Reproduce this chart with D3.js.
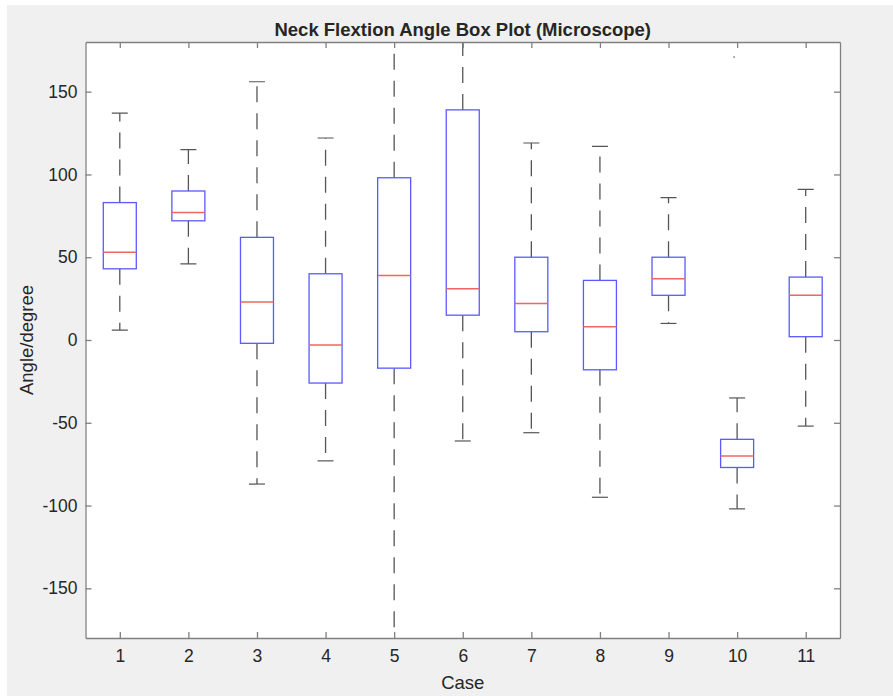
<!DOCTYPE html>
<html>
<head>
<meta charset="utf-8">
<script src="https://cdn.jsdelivr.net/npm/d3@7"></script>
<style>
  body { margin: 0; background: #fff; }
  text { font-family: "Liberation Sans", Arial, sans-serif; fill: #262626; }
</style>
</head>
<body>
<div id="wrapper"></div>
<script>
// data
const cases = ["1", "2", "3", "4", "5", "6", "7", "8", "9", "10", "11"]
const whiskerLow = [6, 46, -87, -73, -200, -61, -56, -95, 10, -102, -52]
const q1 = [43, 72, -2, -26, -17, 15, 5, -18, 27, -77, 2]
const medians = [53, 77, 23, -3, 39, 31, 22, 8, 37, -70, 27]
const q3 = [83, 90, 62, 40, 98, 139, 50, 36, 50, -60, 38]
const whiskerHigh = [137, 115, 156, 122, 200, 200, 119, 117, 86, -35, 91]
const outliers = [{ c: "10", v: 171 }]
const yTicks = [-150, -100, -50, 0, 50, 100, 150]

const dataset = cases.map((c, i) => ({
  c, lo: whiskerLow[i], q1: q1[i], med: medians[i], q3: q3[i], hi: whiskerHigh[i]
}))

const dimensions = {
  width: 893,
  height: 696,
  margin: { top: 42, right: 53, bottom: 58, left: 85.5 },
}
dimensions.boundedWidth = dimensions.width - dimensions.margin.left - dimensions.margin.right
dimensions.boundedHeight = dimensions.height - dimensions.margin.top - dimensions.margin.bottom

const svg = d3.select("#wrapper")
  .append("svg")
  .attr("width", dimensions.width)
  .attr("height", dimensions.height)

// figure background
svg.append("rect")
  .attr("x", 7).attr("y", 5)
  .attr("width", dimensions.width - 7)
  .attr("height", dimensions.height - 5)
  .attr("fill", "#f0f0f0")

const bounds = svg.append("g")
  .attr("transform", `translate(${dimensions.margin.left},${dimensions.margin.top})`)

bounds.append("rect")
  .attr("width", dimensions.boundedWidth)
  .attr("height", dimensions.boundedHeight)
  .attr("fill", "#fff")

bounds.append("clipPath").attr("id", "clip")
  .append("rect")
  .attr("width", dimensions.boundedWidth)
  .attr("height", dimensions.boundedHeight)

const xScale = d3.scalePoint()
  .domain(cases)
  .range([0, dimensions.boundedWidth])
  .padding(0.5)

const yScale = d3.scaleLinear()
  .domain([-180, 180])
  .range([dimensions.boundedHeight, 0])

const boxHalf = 16.5
const capHalf = 8

const marks = bounds.append("g").attr("clip-path", "url(#clip)")

const groups = marks.selectAll(".box")
  .data(dataset)
  .join("g")
  .attr("class", "box")
  .attr("transform", d => `translate(${xScale(d.c)},0)`)

// whiskers
groups.append("line")
  .attr("y1", d => yScale(d.q3)).attr("y2", d => yScale(d.hi))
  .attr("stroke", "#555").attr("stroke-width", 1.3)
  .attr("stroke-dasharray", "16,11")
groups.append("line")
  .attr("y1", d => yScale(d.q1)).attr("y2", d => yScale(d.lo))
  .attr("stroke", "#555").attr("stroke-width", 1.3)
  .attr("stroke-dasharray", "16,11")

// caps
groups.selectAll(".cap")
  .data(d => [d.hi, d.lo])
  .join("line")
  .attr("class", "cap")
  .attr("x1", -capHalf).attr("x2", capHalf)
  .attr("y1", v => yScale(v)).attr("y2", v => yScale(v))
  .attr("stroke", "#555").attr("stroke-width", 1.2)

// boxes
groups.append("rect")
  .attr("x", -boxHalf)
  .attr("width", boxHalf * 2)
  .attr("y", d => yScale(d.q3))
  .attr("height", d => yScale(d.q1) - yScale(d.q3))
  .attr("fill", "none")
  .attr("stroke", "#5a5aff").attr("stroke-width", 1.3)

// medians
groups.append("line")
  .attr("x1", -boxHalf).attr("x2", boxHalf)
  .attr("y1", d => yScale(d.med)).attr("y2", d => yScale(d.med))
  .attr("stroke", "#f06464").attr("stroke-width", 1.5)

// outliers
marks.selectAll(".outlier")
  .data(outliers)
  .join("circle")
  .attr("class", "outlier")
  .attr("cx", d => xScale(d.c) - 3)
  .attr("cy", d => yScale(d.v))
  .attr("r", 1)
  .attr("fill", "#999")

// axes
const axisColor = "#808080"
const xAxis = bounds.append("g")
  .attr("transform", `translate(0,${dimensions.boundedHeight})`)
  .call(d3.axisBottom(xScale).tickSize(-6).tickPadding(12).tickSizeOuter(0))
const xAxisTop = bounds.append("g")
  .call(d3.axisTop(xScale).tickSize(-6).tickFormat("").tickSizeOuter(0))
const yAxis = bounds.append("g")
  .call(d3.axisLeft(yScale).tickValues(yTicks).tickSize(-6).tickPadding(8)
    .tickFormat(d => `${d}`).tickSizeOuter(0))
const yAxisRight = bounds.append("g")
  .attr("transform", `translate(${dimensions.boundedWidth},0)`)
  .call(d3.axisRight(yScale).tickValues(yTicks).tickSize(-6).tickFormat("").tickSizeOuter(0))

;[xAxis, xAxisTop, yAxis, yAxisRight].forEach(a => {
  a.select(".domain").attr("stroke", axisColor).attr("stroke-width", 1.3)
  a.selectAll(".tick line").attr("stroke", axisColor).attr("stroke-width", 1.3)
  a.selectAll(".tick text").attr("font-size", 17.5).attr("fill", "#262626")
    .style("font-family", "'Liberation Sans', Arial, sans-serif")
})

// labels
svg.append("text")
  .attr("x", dimensions.margin.left + dimensions.boundedWidth / 2)
  .attr("y", 36)
  .attr("text-anchor", "middle")
  .attr("font-size", 18.5).attr("font-weight", "bold")
  .attr("fill", "#111")
  .text("Neck Flextion Angle Box Plot (Microscope)")

svg.append("text")
  .attr("x", dimensions.margin.left + dimensions.boundedWidth / 2)
  .attr("y", 689)
  .attr("text-anchor", "middle")
  .attr("font-size", 18.5)
  .text("Case")

svg.append("text")
  .attr("transform", `translate(33,${dimensions.margin.top + dimensions.boundedHeight / 2}) rotate(-90)`)
  .attr("text-anchor", "middle")
  .attr("font-size", 18.5)
  .text("Angle/degree")
</script>
</body>
</html>
